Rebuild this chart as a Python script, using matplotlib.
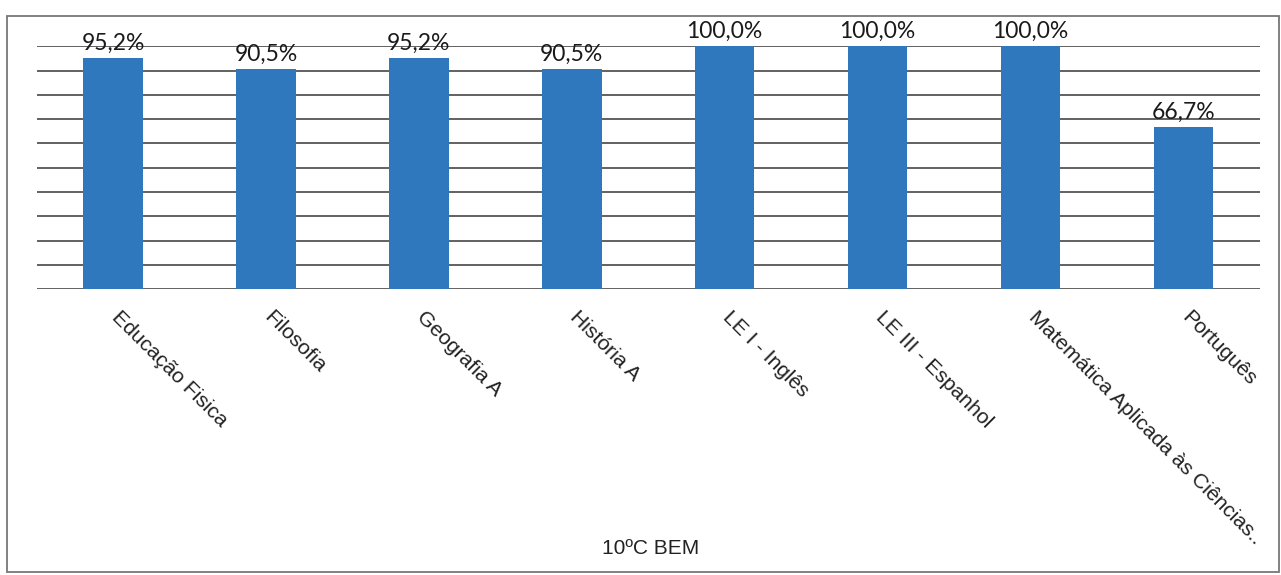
import matplotlib
matplotlib.use("Agg")
import matplotlib.pyplot as plt
import matplotlib.transforms as mtransforms
from matplotlib.patches import Rectangle

# data
subjects = ["Educação Fisica", "Filosofia", "Geografia A", "História A",
            "LE I - Inglês", "LE III - Espanhol",
            "Matemática Aplicada às Ciências..", "Português"]
values = [0.952, 0.905, 0.952, 0.905, 1.0, 1.0, 1.0, 0.667]
value_labels = ["95,2%", "90,5%", "95,2%", "90,5%", "100,0%", "100,0%", "100,0%", "66,7%"]
title = "10ºC BEM"

fig = plt.figure(figsize=(12.81, 5.75), dpi=100)
ax = fig.add_axes([0.0285, 0.497, 0.955, 0.4226])

x = range(len(subjects))
ax.bar(x, values, width=0.39, color="#2f78bd", zorder=3)

ax.set_xlim(-0.5, len(subjects) - 0.5)
ax.set_ylim(0, 1)
ax.set_yticks([i / 10 for i in range(11)])
ax.yaxis.grid(True, color="#555555", linewidth=1.3, zorder=0)
ax.tick_params(axis="y", left=False, labelleft=False)
ax.tick_params(axis="x", bottom=False, pad=0)
for s in ax.spines.values():
    s.set_visible(False)
ax.set_xticks(list(x))
ax.set_xticklabels(subjects, rotation=-45, ha="left", va="top",
                   rotation_mode="anchor", fontsize=15.2,
                   family=["Liberation Sans", "DejaVu Sans"], color="#222222")
# shift tick labels so they start just under each bar
shift = mtransforms.ScaledTranslation(8 / 100, -13 / 100, fig.dpi_scale_trans)
for lab in ax.get_xticklabels():
    lab.set_transform(lab.get_transform() + shift)

# value labels
for xi, v, lab in zip(x, values, value_labels):
    ax.annotate(lab, (xi, v), xytext=(0, 3), textcoords="offset points",
                ha="center", va="bottom", fontsize=16.5, family="Lato",
                color="#1a1a1a", clip_on=False)

fig.text(651 / 1281, 1 - 548 / 575, title, ha="center", va="center", fontsize=15,
         family="Liberation Sans", color="#222222")

# outer chart frame
fig.patches.append(Rectangle((7 / 1281, 3 / 575), 1272 / 1281, 556 / 575,
                             transform=fig.transFigure, fill=False,
                             edgecolor="#777777", linewidth=1.3))

fig.savefig("out.png", dpi=100)
